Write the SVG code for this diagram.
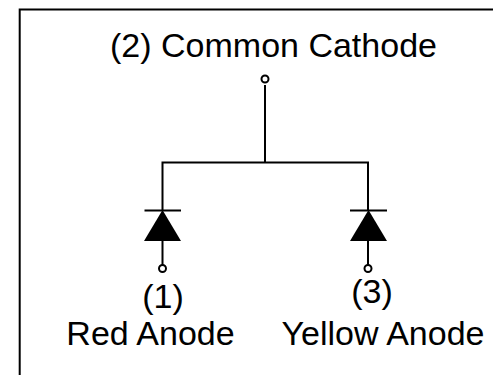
<svg xmlns="http://www.w3.org/2000/svg" width="493" height="375" viewBox="0 0 493 375">
<style>
.w{fill:none;stroke:#000;stroke-width:2}
.t{font-family:"Liberation Sans",Arial,sans-serif;font-size:34px;fill:#000;text-anchor:middle}
.p{fill:#fff;stroke:#000;stroke-width:2}
</style>
<rect width="493" height="375" fill="#fff"/>
<path id="frame" class="w" d="M19.700 375V9.500H493"/>
<g id="connectors">
<path class="w" d="M265 85V162.500M162.500 210V162.500H368V210M162.500 241V265M368 241V265"/>
</g>
<g id="cathode"><circle class="p" cx="265" cy="79" r="3.500"/><text class="t" x="273.500" y="57">(2) Common Cathode</text></g>
<g id="red">
<path class="w" d="M144.500 210.500H181"/><path d="M162.500 210L181 241H144z"/>
<circle class="p" cx="162.500" cy="268.500" r="3.500"/>
<text class="t" x="163" y="308">(1)</text><text class="t" x="150.500" y="345">Red Anode</text></g>
<g id="yellow">
<path class="w" d="M350 210.500H387"/><path d="M368.500 210L387 241H350z"/>
<circle class="p" cx="368" cy="268.500" r="3.500"/>
<text class="t" x="372" y="303">(3)</text><text class="t" x="383" y="345">Yellow Anode</text></g>
</svg>
